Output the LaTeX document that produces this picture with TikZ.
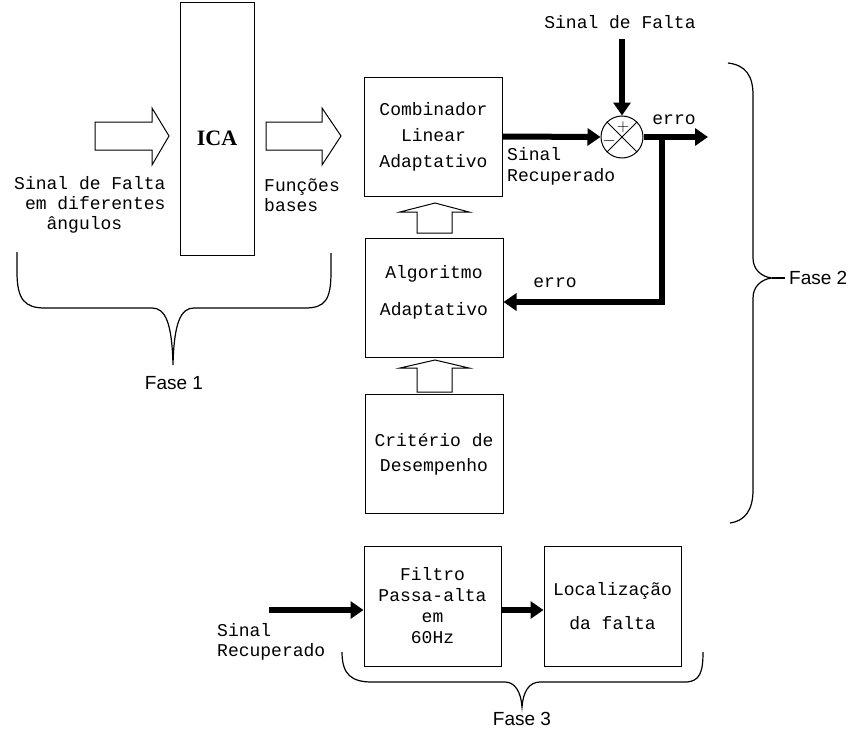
\documentclass[tikz,border=0pt]{standalone}
\usepackage{fontspec}
\setmainfont{Liberation Serif}
\setmonofont{Liberation Mono}
\newfontfamily\fasefont{Liberation Sans}
\usetikzlibrary{arrows.meta,calc}

\tikzset{
  bloco/.style={draw,line width=1pt,minimum width=138pt,minimum height=119pt,
    align=center,inner sep=0pt,font=\ttfamily\fontsize{18}{21}\selectfont},
  rotulo/.style={inner sep=0pt,font=\ttfamily\fontsize{18}{21}\selectfont},
  fase/.style={inner sep=0pt,font=\fasefont\fontsize{19}{22}\selectfont},
  sinal/.style={line width=6pt,-{Triangle[length=13pt,width=17pt]}},
  oco/.style={draw,line width=1pt,fill=white},
  chave/.style={draw,line width=1.2pt},
}

\begin{document}
\begin{tikzpicture}[x=1pt,y=-1pt]
    \useasboundingbox (0,0) rectangle (851,728);

    % Fase 1
    \node[draw,line width=1pt,minimum width=74pt,minimum height=253pt] (ica) at (217,128.5) {};
    \node[font=\bfseries\fontsize{22}{24}\selectfont] (icatxt) at (217,138) {ICA};
    \draw[oco] (95,122) -- (152,122) -- (152,108) -- (169,136) -- (152,165) -- (152,150) -- (95,150) -- cycle;
    \draw[oco] (266,122) -- (322,122) -- (322,108) -- (341,136) -- (322,165) -- (322,150) -- (266,150) -- cycle;
    \node[rotulo,align=left,anchor=west,font=\ttfamily\fontsize{18}{20}\selectfont] (entrada) at (14,205)
        {Sinal de Falta\\\phantom{a}em diferentes\\\phantom{aaa}ângulos};
    \node[rotulo,align=left,anchor=west,font=\ttfamily\fontsize{18}{20}\selectfont] (bases) at (264,195)
        {Funções\\bases};
    \draw[chave] (17,252) -- (17,272) .. controls (17,300) and (25,308) .. (45,308) -- (152,308)
        .. controls (165,308) and (172,322) .. (173,365) .. controls (174,322) and (181,308) .. (194,308)
        -- (305,308) .. controls (325,308) and (331,300) .. (331,272) -- (331,253);
    \node[fase] (fase1) at (174,383) {Fase 1};

    % Fase 2
    \node[bloco] (comb) at (433.5,136.5) {Combinador\\[5pt]Linear\\[5pt]Adaptativo};
    \node[bloco] (algo) at (434,297.5) {Algoritmo\\[16pt]Adaptativo\\[-6pt]\mbox{}};
    \node[bloco] (crit) at (434,454) {Critério de\\[4pt]Desempenho};
    \draw[oco] (417,233) -- (417,212) -- (400,212) -- (435,203) -- (469,212) -- (452,212) -- (452,233) -- cycle;
    \draw[oco] (417,392) -- (417,368) -- (400,368) -- (435,360) -- (469,368) -- (452,368) -- (452,392) -- cycle;

    \node[circle,draw,line width=1pt,minimum size=42pt,inner sep=0pt] (soma) at (622,137) {};
    \draw[line width=0.8pt] (soma.north east) -- (soma.south west) (soma.north west) -- (soma.south east);
    \node[inner sep=0pt,font=\fontsize{17}{17}\selectfont] (mais) at ($(soma.center)+(1,-10)$) {$+$};
    \node[inner sep=0pt,font=\fontsize{17}{17}\selectfont] (menos) at ($(soma.center)+(-13,4)$) {$-$};

    \node[rotulo] (falta) at (620,22) {Sinal de Falta};
    \draw[sinal] ($(falta.south -| soma.north)+(0,10)$) -- (soma.north);
    \draw[sinal] (comb.east) -- (soma.west);
    \node[rotulo,align=left,anchor=west] (recup) at (507,166) {Sinal\\Recuperado};
    \coordinate (saida) at (708,137);
    \coordinate (ramo) at (662,137);
    \draw[sinal] (soma.east) -- (saida);
    \node[rotulo] (erro1) at (674,120) {erro};
    \draw[sinal] (ramo) |- ([yshift=-4.5pt]algo.east);
    \node[rotulo] (erro2) at (555,283) {erro};

    \draw[chave] (728,63) .. controls (745,65) and (753,75) .. (753,95) -- (753,258)
        .. controls (753,270) and (762,277) .. (772,278) .. controls (762,279) and (753,286) .. (753,298)
        -- (753,490) .. controls (753,510) and (745,521) .. (730,523);
    \node[fase,anchor=west] (fase2) at (789,278) {Fase 2};
    \draw[chave] (772,278) -- ([xshift=-4pt]fase2.west);

    % Fase 3
    \node[bloco,minimum width=137pt,minimum height=120pt] (filtro) at (432.5,606)
        {Filtro\\Passa-alta\\em\\60Hz};
    \node[bloco,minimum width=137pt,minimum height=120pt] (local) at (612.5,606)
        {Localização\\[13pt]da falta};
    \coordinate (entra) at (269,610);
    \draw[sinal] (entra) -- (entra -| filtro.west);
    \draw[sinal] (filtro.east |- entra) -- (local.west |- entra);
    \node[rotulo,align=left,anchor=west,font=\ttfamily\fontsize{18}{20}\selectfont] (recup3) at (217,642)
        {Sinal\\Recuperado};
    \draw[chave] (342,652) .. controls (342,675) and (352,682) .. (372,682) -- (505,682)
        .. controls (515,682) and (521,692) .. (522,707) .. controls (523,692) and (529,682) .. (540,682)
        -- (685,682) .. controls (700,682) and (703,672) .. (703,652);
    \node[fase] (fase3) at (522,719) {Fase 3};
\end{tikzpicture}
\end{document}
